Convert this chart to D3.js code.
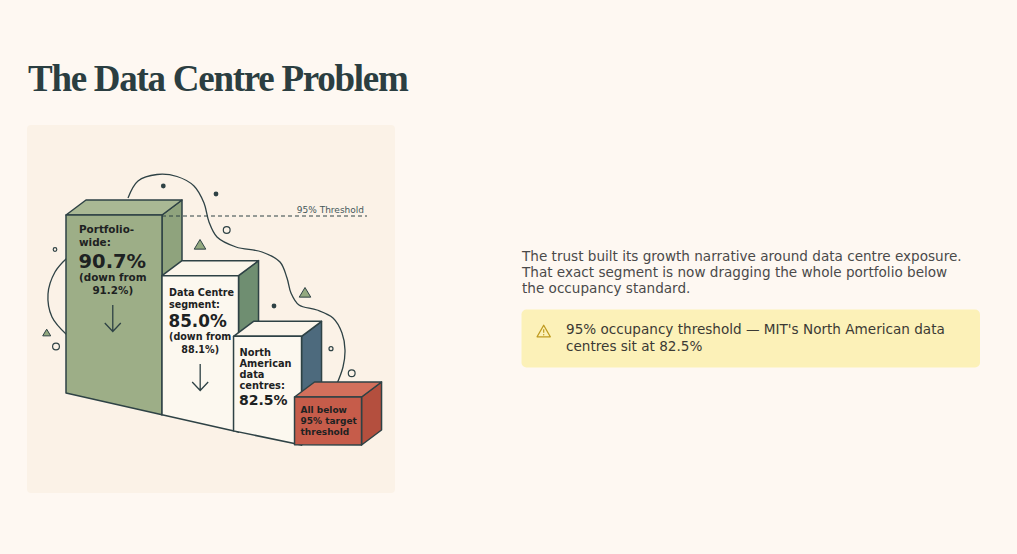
<!DOCTYPE html>
<html>
<head>
<meta charset="utf-8">
<script src="https://cdn.jsdelivr.net/npm/d3@7"></script>
<style>
  html, body { margin: 0; padding: 0; background: #fef8f2; }
  svg { display: block; }
</style>
</head>
<body>
<svg id="chart" width="1017" height="554"></svg>
<script>
// ---------- DATA ----------
const categories = ["Portfolio-wide", "Data Centre segment", "North American data centres", "All below 95% target threshold"];
const values = [90.7, 85.0, 82.5, null];
const previousValues = [91.2, 88.1, null, null];
const labelLines = [["Portfolio-", "wide:"], ["Data Centre", "segment:"], ["North", "American", "data", "centres:"], ["All below", "95% target", "threshold"]];
const threshold = 95;
const thresholdLabel = "95% Threshold";
const title = "The Data Centre Problem";
const bodyLines = ["The trust built its growth narrative around data centre exposure.", "That exact segment is now dragging the whole portfolio below", "the occupancy standard."];
const calloutLines = ["95% occupancy threshold \u2014 MIT's North American data", "centres sit at 82.5%"];

// ---------- STYLE ----------
const ink = "#2e4245";
const frontFill = ["#9dae87", "#fcf8ef", "#fcf8ef", "#c65c4a"];
const sideFill = ["#8fa37d", "#6f8e71", "#4d6a7d", "#b44f3e"];
const topFill = ["#a9b894", "#fbf5ea", "#fbf5ea", "#d2705c"];
const labelFont = "'DejaVu Sans', Inter, sans-serif";
const textFont = "'DejaVu Sans', 'Open Sans', sans-serif";

const svg = d3.select("#chart");

// title
const titleText = svg.append("text").attr("x", 28).attr("y", 91)
  .attr("font-family", "'Liberation Serif', 'DejaVu Serif', serif")
  .attr("font-weight", 700).attr("font-size", 37)
  .attr("letter-spacing", -0.8)
  .attr("fill", "#2b3e41").text(title);
{
  const w = titleText.node().getComputedTextLength();
  titleText.attr("letter-spacing", -0.8 + (380 - w) / (title.length - 1));
}

// panel
svg.append("rect").attr("x", 27).attr("y", 125).attr("width", 368).attr("height", 368)
  .attr("rx", 4).attr("fill", "#fbf2e7");

// ---------- SCALES ----------
const yTop = d3.scalePoint().domain(categories).range([215, 397]);
const wScale = d3.scaleLinear().domain([82.5, 90.7]).range([68, 96]);
const floorY = d3.scaleLinear().domain([66, 296]).range([393, 445]).clamp(true);
const depthX = 20, depthY = -15;
const overlap = [0, 0, 5, 7];

const blocks = [];
let cursor = 66;
categories.forEach((c, i) => {
  const w = values[i] == null ? 67 : wScale(values[i]);
  const x0 = cursor - overlap[i];
  const x1 = x0 + w;
  blocks.push({ c, i, x0, x1, top: yTop(c) });
  cursor = x1;
});

// ---------- DECORATIONS (behind) ----------
const deco = svg.append("g");
const wave = [[128,198],[138,181],[157,174.5],[177,176.5],[194,186],[204,203],[209,222],[217,237],[236,247],[262,252],[280,262],[287,278],[291,293],[299,305],[317,310],[333,318],[342,333],[345,350],[343,367],[336,386]];
const leftArc = [[67,258],[55,272],[48,294],[52,317],[67,335]];
const line = d3.line().curve(d3.curveCatmullRom.alpha(0.5));
deco.append("path").attr("d", line(wave)).attr("fill", "none").attr("stroke", ink).attr("stroke-width", 1.3);
deco.append("path").attr("d", line(leftArc)).attr("fill", "none").attr("stroke", ink).attr("stroke-width", 1.3);
[[163.3,186],[216,194],[274,306]].forEach(p => deco.append("circle").attr("cx", p[0]).attr("cy", p[1]).attr("r", 2.4).attr("fill", ink));
[[55,249.5,1.8],[226.7,230,3.4],[56,346.5,3.4],[331,348.7,2],[351.7,373.3,3.4]].forEach(p =>
  deco.append("circle").attr("cx", p[0]).attr("cy", p[1]).attr("r", p[2]).attr("fill", "none").attr("stroke", ink).attr("stroke-width", 1.2));
[[200,245,5.5],[305,293,5.5],[46.7,333,3.8]].forEach(p => {
  const [cx, cy, s] = p;
  deco.append("path").attr("d", `M${cx},${cy - s}L${cx + s * 1.05},${cy + s * 0.75}L${cx - s * 1.05},${cy + s * 0.75}Z`)
    .attr("fill", "#93a97f").attr("stroke", ink).attr("stroke-width", 1);
});

// ---------- BLOCKS ----------
const g = svg.append("g").attr("stroke", ink).attr("stroke-width", 1.5).attr("stroke-linejoin", "round");
blocks.forEach(b => {
  const { x0, x1, top, i } = b;
  const b0 = floorY(x0), b1 = floorY(x1);
  const bg = g.append("g");
  bg.append("path").attr("d", `M${x1},${top}L${x1 + depthX},${top + depthY}L${x1 + depthX},${b1 + depthY}L${x1},${b1}Z`).attr("fill", sideFill[i]);
  bg.append("path").attr("d", `M${x0},${top}L${x0 + depthX},${top + depthY}L${x1 + depthX},${top + depthY}L${x1},${top}Z`).attr("fill", topFill[i]);
  bg.append("path").attr("d", `M${x0},${top}L${x1},${top}L${x1},${b1}L${x0},${b0}Z`).attr("fill", frontFill[i]);
});

// threshold line
svg.append("line").attr("x1", blocks[0].x1).attr("x2", 367).attr("y1", yTop(categories[0]) + 1).attr("y2", yTop(categories[0]) + 1)
  .attr("stroke", ink).attr("stroke-width", 1).attr("stroke-dasharray", "4,3");
svg.append("text").attr("x", 364).attr("y", 212.5).attr("text-anchor", "end")
  .attr("font-family", textFont).attr("font-size", 9).attr("fill", "#44575a").text(thresholdLabel);

// ---------- LABELS ----------
const lg = svg.append("g").attr("font-family", labelFont).attr("fill", "#1d2222");
const pad = [13, 7, 6, 6];
const lineH = [12.7, 11.5, 11.1, 11.3];
const firstBase = [233.3, 296, 356, 412.7];
const smallSize = [10.4, 9.6, 9.8, 9];
const bigSize = [19.5, 16.8, 14];
const bigGap = [22, 19.5, 16];
blocks.forEach(b => {
  const i = b.i;
  const x = b.x0 + pad[i];
  let y = firstBase[i];
  labelLines[i].forEach((t, k) => {
    lg.append("text").attr("x", x).attr("y", y + k * lineH[i]).attr("font-size", smallSize[i]).attr("font-weight", 700).text(t);
  });
  y += (labelLines[i].length - 1) * lineH[i];
  if (values[i] != null) {
    y += bigGap[i];
    lg.append("text").attr("x", x - 0.5).attr("y", y).attr("font-size", bigSize[i]).attr("font-weight", 700)
      .text(d3.format(".1f")(values[i]) + "%");
    if (previousValues[i] != null) {
      y += 13;
      const t1 = lg.append("text").attr("x", x).attr("y", y).attr("font-size", smallSize[i]).attr("font-weight", 700).text("(down from");
      const w1 = t1.node().getComputedTextLength();
      y += 12.5;
      lg.append("text").attr("x", x + w1 / 2).attr("y", y).attr("text-anchor", "middle").attr("font-size", smallSize[i]).attr("font-weight", 700)
        .text(d3.format(".1f")(previousValues[i]) + "%)");
      const ax = x + w1 / 2, ay0 = y + 11.5, ay1 = y + 38;
      lg.append("path").attr("d", `M${ax},${ay0}L${ax},${ay1}M${ax - 8},${ay1 - 8.5}L${ax},${ay1}L${ax + 8},${ay1 - 8.5}`)
        .attr("fill", "none").attr("stroke", ink).attr("stroke-width", 1.3);
    }
  }
});

// ---------- RIGHT TEXT ----------
const baseSize = 13;
const rt = svg.append("g").attr("font-family", textFont).attr("fill", "#4a4a4a");
const bodySel = bodyLines.map((t, k) => rt.append("text").attr("x", 522).attr("y", 260.7 + k * 16.3).attr("font-size", baseSize).text(t));
const measured = bodySel[0].node().getComputedTextLength();
const bodySize = measured > 0 ? baseSize * 440 / measured : baseSize;
bodySel.forEach(s => s.attr("font-size", bodySize));
svg.append("rect").attr("x", 521.5).attr("y", 309.5).attr("width", 458.5).attr("height", 58).attr("rx", 5).attr("fill", "#fcf1b8");
svg.append("path").attr("d", "M543.7,325.2L550.3,336.8L537.1,336.8Z").attr("fill", "none").attr("stroke", "#bf9a1f").attr("stroke-width", 1.3).attr("stroke-linejoin", "round");
svg.append("line").attr("x1", 543.7).attr("x2", 543.7).attr("y1", 329.3).attr("y2", 332.8).attr("stroke", "#bf9a1f").attr("stroke-width", 1.2);
svg.append("circle").attr("cx", 543.7).attr("cy", 334.7).attr("r", 0.7).attr("fill", "#bf9a1f");
const ct = svg.append("g").attr("font-family", textFont).attr("fill", "#3b3a34");
calloutLines.forEach((t, k) => ct.append("text").attr("x", 566).attr("y", 334 + k * 16.7).attr("font-size", bodySize).text(t));
</script>
</body>
</html>
